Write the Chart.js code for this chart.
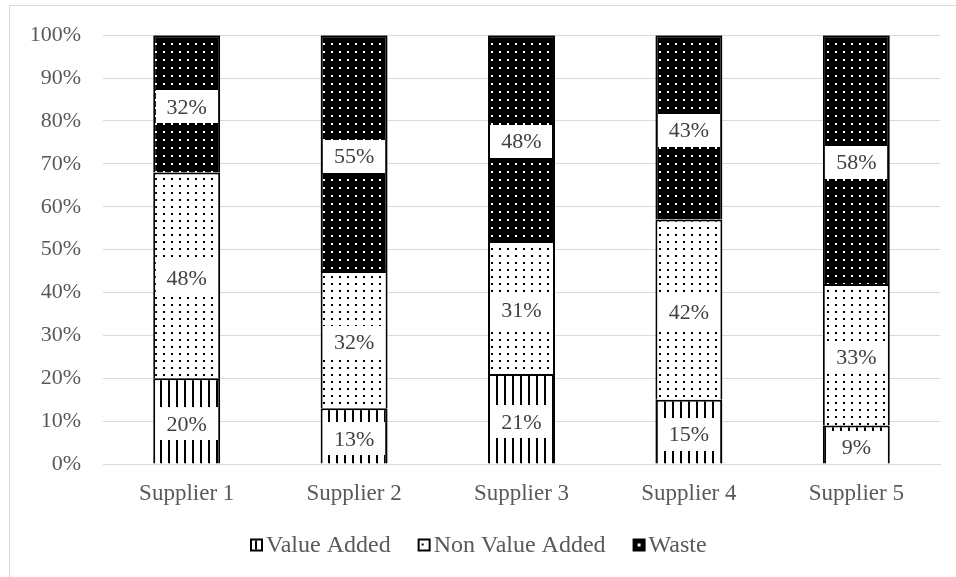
<!DOCTYPE html>
<html>
<head>
<meta charset="utf-8">
<script src="https://cdn.jsdelivr.net/npm/chart.js@4/dist/chart.umd.min.js"></script>
<style>
  html, body { margin: 0; padding: 0; background: #ffffff; }
  #wrap { position: relative; width: 956px; height: 577px; overflow: hidden; }
  #frame { position: absolute; left: 9px; top: 5px; width: 980px; height: 600px; border: 1px solid #d9d9d9; box-sizing: border-box; }
  #chart { position: absolute; left: 0; top: 0; }
</style>
</head>
<body>
<div id="wrap">
  <div id="frame"></div>
  <canvas id="chart" width="956" height="577"></canvas>
</div>
<script>
// Share of process time per supplier (percent)
const suppliers = ['Supplier 1', 'Supplier 2', 'Supplier 3', 'Supplier 4', 'Supplier 5'];
const valueAdded = [20, 13, 21, 15, 9];
const nonValueAdded = [48, 32, 31, 42, 33];
const waste = [32, 55, 48, 43, 58];
const seriesNames = ['Value Added', 'Non Value Added', 'Waste'];
const yTicks = [0, 10, 20, 30, 40, 50, 60, 70, 80, 90, 100];

const SERIF = "'Liberation Serif', 'Times New Roman', serif";

// Fill patterns for the three series
function makeTile(w, h, draw) {
  const c = document.createElement('canvas');
  c.width = w; c.height = h;
  draw(c.getContext('2d'));
  return document.getElementById('chart').getContext('2d').createPattern(c, 'repeat');
}
const stripePattern = makeTile(8, 8, g => {
  g.fillStyle = '#ffffff'; g.fillRect(0, 0, 8, 8);
  g.fillStyle = '#000000'; g.fillRect(0, 0, 2, 8);
});
const lightDots = makeTile(8, 7, g => {
  g.fillStyle = '#ffffff'; g.fillRect(0, 0, 8, 7);
  g.fillStyle = '#000000'; g.fillRect(3, 3, 2, 2);
});
const darkDots = makeTile(8, 8, g => {
  g.fillStyle = '#000000'; g.fillRect(0, 0, 8, 8);
  g.fillStyle = '#ffffff'; g.fillRect(3, 3, 2, 2);
});

// White boxed value labels centred on every segment
const boxLabels = {
  id: 'boxLabels',
  afterDatasetsDraw(chart) {
    const ctx = chart.ctx;
    ctx.save();
    ctx.font = '22px ' + SERIF;
    ctx.textAlign = 'center';
    ctx.textBaseline = 'middle';
    chart.data.datasets.forEach((ds, di) => {
      const meta = chart.getDatasetMeta(di);
      meta.data.forEach((bar, i) => {
        const p = bar.getProps(['x', 'y', 'base'], true);
        const cy = (p.y + p.base) / 2 + 3;
        const txt = ds.data[i] + '%';
        const w = ctx.measureText(txt).width + 22;
        const h = 33;
        ctx.fillStyle = '#ffffff';
        ctx.fillRect(Math.round(p.x - w / 2), Math.round(cy - h / 2), Math.round(w), h);
        ctx.fillStyle = '#404040';
        ctx.fillText(txt, p.x, cy + 1);
      });
    });
    ctx.restore();
  }
};

// Legend row under the category labels
const legendRow = {
  id: 'legendRow',
  afterDraw(chart) {
    const ctx = chart.ctx;
    ctx.save();
    ctx.font = '24px ' + SERIF;
    ctx.textBaseline = 'middle';
    const box = 13, gapBox = 3, gapItem = 27;
    const widths = seriesNames.map(n => box + gapBox + ctx.measureText(n).width);
    const total = widths.reduce((a, b) => a + b, 0) + gapItem * (seriesNames.length - 1);
    let x = Math.round(chart.width / 2 - total / 2);
    const cy = 545;
    seriesNames.forEach((name, k) => {
      const bx = x, by = cy - box / 2;
      if (k === 2) {
        ctx.fillStyle = '#000000'; ctx.fillRect(bx, by, box, box);
        ctx.fillStyle = '#ffffff'; ctx.fillRect(bx + 5, by + 5, 3, 3);
      } else {
        ctx.fillStyle = '#000000'; ctx.fillRect(bx, by, box, box);
        ctx.fillStyle = '#ffffff'; ctx.fillRect(bx + 2, by + 2, box - 4, box - 4);
        ctx.fillStyle = '#000000';
        if (k === 0) ctx.fillRect(bx + 5, by + 2, 2, box - 4);
        else ctx.fillRect(bx + 4, by + 5, 2, 2);
      }
      ctx.fillStyle = '#595959';
      ctx.fillText(name, bx + box + gapBox, cy + 1);
      x += widths[k] + gapItem;
    });
    ctx.restore();
  }
};

const barStyle = { borderColor: '#000000', borderWidth: 2, barPercentage: 0.4, categoryPercentage: 1.0 };

new Chart(document.getElementById('chart'), {
  type: 'bar',
  data: {
    labels: suppliers,
    datasets: [
      Object.assign({ label: seriesNames[0], data: valueAdded, backgroundColor: stripePattern }, barStyle),
      Object.assign({ label: seriesNames[1], data: nonValueAdded, backgroundColor: lightDots }, barStyle),
      Object.assign({ label: seriesNames[2], data: waste, backgroundColor: darkDots }, barStyle)
    ]
  },
  options: {
    responsive: false,
    animation: false,
    events: [],
    layout: { padding: { left: 0, top: 34, right: 16, bottom: 0 } },
    plugins: { legend: { display: false }, tooltip: { enabled: false } },
    scales: {
      x: {
        stacked: true,
        grid: { display: false, drawTicks: false },
        border: { display: true, color: '#d9d9d9', width: 1 },
        ticks: { color: '#595959', font: { family: SERIF, size: 23 }, padding: 16 },
        afterFit(s) { s.height = 113; }
      },
      y: {
        stacked: true,
        min: 0, max: 100,
        afterBuildTicks(s) { s.ticks = yTicks.map(v => ({ value: v })); },
        grid: { color: '#d9d9d9', lineWidth: 1, drawTicks: false },
        border: { display: false },
        ticks: { color: '#595959', font: { family: SERIF, size: 22 }, padding: 22, callback: v => v + '%' },
        afterFit(s) { s.width = 103; }
      }
    }
  },
  plugins: [boxLabels, legendRow]
});
</script>
</body>
</html>
